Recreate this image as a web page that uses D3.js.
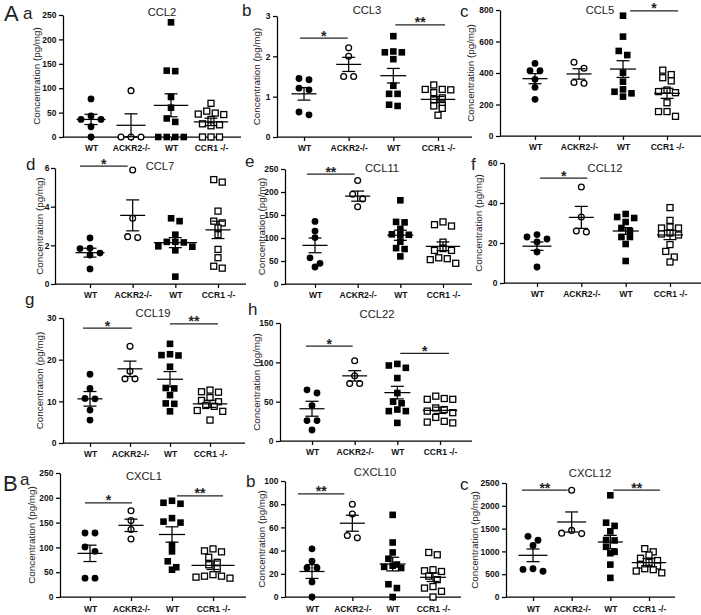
<!DOCTYPE html>
<html><head><meta charset="utf-8">
<script src="https://cdn.jsdelivr.net/npm/d3@7"></script>
<style>body{margin:0;background:#fff}svg{display:block}</style>
</head><body>
<svg id="fig" width="701" height="615"></svg>
<script>
// ---------- DATA ----------
const groupLabels = ["WT", "ACKR2-/-", "WT", "CCR1 -/-"];
const titles = ["CCL2","CCL3","CCL5","CCL7","CCL11","CCL12","CCL19","CCL22","CXCL1","CXCL10","CXCL12"];
const panelLetters = ["a","b","c","d","e","f","g","h","a","b","c"];
const sectionLetters = ["A","B"];
const yMax  = [250, 3, 800, 6, 250, 60, 30, 150, 250, 100, 2500];
const yStep = [50, 1, 200, 2, 50, 20, 10, 50, 50, 20, 500];

const ccl2 = [[78,43,36,36,21,0],[95,0,0,0],[235,136,135,82,60,38,31,0,0,0,0],[69,53,49,47,46,36,27,25,23,0,0,0]];
const ccl2Mean = [36,24,65,31], ccl2Sem = [10.5,23.5,23.5,7.5];
const ccl2Sig = [];

const ccl3 = [[1.45,1.42,1.21,1.17,0.62,0.55],[2.21,2.0,1.5,1.5],[2.5,2.12,2.1,2.1,1.93,1.27,1.07,1.07,0.8,0.77],[1.29,1.18,1.18,1.17,1.1,0.97,0.92,0.79,0.77,0.71,0.54]];
const ccl3Mean = [1.07,1.8,1.52,0.93], ccl3Sem = [0.155,0.175,0.18,0.075];
const ccl3Sig = [[0,1,2.45,"*"],[2,3,2.78,"**"]];

const ccl5 = [[461,415,415,360,309,233],[468,430,340,335],[764,631,540,514,402,345,296,281,271,250],[418,390,370,350,292,282,275,211,155,155,125]];
const ccl5Mean = [364,394,425,271], ccl5Sem = [32,33,53,32];
const ccl5Sig = [[2,3,794,"*"]];

const ccl7 = [[2.38,1.85,1.83,1.6,1.5,0.78],[5.9,3.4,2.45,2.4],[3.4,3.25,2.55,2.18,2.18,2.15,1.95,1.93,1.74,0.38],[5.4,5.27,3.77,3.25,3.16,2.9,2.55,1.79,1.36,0.92,0.82]];
const ccl7Mean = [1.62,3.55,2.14,2.8], ccl7Sem = [0.23,0.8,0.26,0.45];
const ccl7Sig = [[0,1,6.1,"*"]];

const ccl11 = [[136,115,101,57,45,37],[225,195,185,168],[182,135,134,120,108,107,106,92,78,76,60],[135,129,126,91,77,73,73,57,55,53,45]];
const ccl11Mean = [84,191,106,82], ccl11Sem = [16,11,11,9.5];
const ccl11Sig = [[0,1,239,"**"]];

const ccl12 = [[24.2,23,22,20.5,15.5,8],[48,33,26,25.5],[34.5,33,32.5,30.5,27.5,26,23,23,19.5,11],[37.7,31.3,28,27.5,27.5,25,24.5,24,19.2,15.8,13,10.5]];
const ccl12Mean = [18.4,32.8,26,24], ccl12Sem = [2.1,5.5,1.7,2.3];
const ccl12Sig = [[0,1,52.5,"*"]];

const ccl19 = [[16.5,13.1,10.7,10.6,7.9,5.5],[23.2,17.2,15.4,15.4],[23.8,21.3,21.1,21.0,18.3,13.2,13.1,11.5,9.5,9.4,7.6],[12.7,12.3,12.2,10.9,10.2,9.9,9.0,8.8,7.8,7.6,5.5]];
const ccl19Mean = [10.6,17.8,15.3,9.4], ccl19Sem = [1.75,1.85,1.85,0.85];
const ccl19Sig = [[0,1,27.6,"*"],[2,3,28.6,"**"]];

const ccl22 = [[65,61,45,26,26,14],[102,83,73,73],[98,96,93,80,61,50,48,40,38,38,23],[57,54,53,53,42,40,38,36,30,25,24,23]];
const ccl22Mean = [41,82.8,61.5,39], ccl22Sem = [9.5,6.6,8,4];
const ccl22Sig = [[0,1,120.5,"*"],[2,3,111.5,"*"]];

const cxcl1 = [[129,129,101,92,38,38],[174,154,136,117],[194,190,188,159,152,150,105,92,72,60,55],[97,93,91,80,70,65,57,45,42,42,40,38]];
const cxcl1Mean = [88,144.5,126,64], cxcl1Sem = [16.5,12.5,15.5,8.5];
const cxcl1Sig = [[0,1,190,"*"],[2,3,204,"**"]];

const cxcl10 = [[41.5,31,25,25,13,0],[80,71.6,53,51],[70.8,47,38.4,33,28,27,26,25,11,7.7,0],[38.4,36.4,23.5,22.6,22,18,15,9,7.7,4.9,0]];
const cxcl10Mean = [22,63.6,28.4,17], cxcl10Sem = [6,6.9,5.9,3.6];
const cxcl10Sig = [[0,1,89,"**"]];

const cxcl12 = [[1330,1245,1130,620,605,565],[2340,1460,1400,1390],[2230,1630,1560,1440,1250,1240,1100,990,960,710,420],[1060,990,920,850,800,760,700,680,620,600,570,530]];
const cxcl12Mean = [914,1645,1206,753], cxcl12Sem = [139,220,146,91];
const cxcl12Sig = [[0,1,2346,"**"],[2,3,2346,"**"]];

const allData = [ccl2,ccl3,ccl5,ccl7,ccl11,ccl12,ccl19,ccl22,cxcl1,cxcl10,cxcl12];
const allMean = [ccl2Mean,ccl3Mean,ccl5Mean,ccl7Mean,ccl11Mean,ccl12Mean,ccl19Mean,ccl22Mean,cxcl1Mean,cxcl10Mean,cxcl12Mean];
const allSem  = [ccl2Sem,ccl3Sem,ccl5Sem,ccl7Sem,ccl11Sem,ccl12Sem,ccl19Sem,ccl22Sem,cxcl1Sem,cxcl10Sem,cxcl12Sem];
const allSig  = [ccl2Sig,ccl3Sig,ccl5Sig,ccl7Sig,ccl11Sig,ccl12Sig,ccl19Sig,ccl22Sig,cxcl1Sig,cxcl10Sig,cxcl12Sig];

// ---------- LAYOUT (pixels) ----------
const layouts = [
 {x0:63, x1:241,c0:91, c3:211,yTop:15, yBot:137,yt:26,tx:162,ty:16, lx:23, ly:19, sd:[]},
 {x0:277,x1:472,c0:304,c3:438,yTop:16, yBot:137,yt:20,tx:367,ty:14, lx:242,ly:16, sd:[[-4,-1],[2,7]]},
 {x0:500,x1:701,c0:535,c3:667,yTop:10, yBot:136,yt:29,tx:600,ty:14, lx:460,ly:17, sd:[[7,11]]},
 {x0:55, x1:246,c0:90, c3:218,yTop:168,yBot:284,yt:15.5,tx:160,ty:170,lx:26, ly:170,sd:[[-10,-5]]},
 {x0:285,x1:472,c0:315,c3:443,yTop:169,yBot:284,yt:23,tx:382,ty:172,lx:245,ly:167,sd:[[-8,-3]]},
 {x0:504,x1:701,c0:537,c3:670,yTop:163,yBot:283,yt:25,tx:605,ty:172,lx:471,ly:170,sd:[[3,6]]},
 {x0:63, x1:245,c0:90, c3:210,yTop:318,yBot:443,yt:23,tx:153,ty:317,lx:25, ly:305,sd:[[-7,2],[0,8]]},
 {x0:280,x1:472,c0:312,c3:440,yTop:323,yBot:441,yt:23,tx:377,ty:318,lx:248,ly:315,sd:[[-6,-2],[3,9]]},
 {x0:60, x1:246,c0:90, c3:213,yTop:473,yBot:597,yt:28,tx:144,ty:480,lx:20, ly:485,sd:[[-5,1],[5,10]]},
 {x0:285,x1:461,c0:312,c3:433,yTop:481,yBot:597,yt:23,tx:375,ty:476,lx:246,ly:487,sd:[[-14,-8]]},
 {x0:506,x1:675,c0:533,c3:649,yTop:483,yBot:597,yt:31,tx:590,ty:477,lx:460,ly:490,sd:[[-11,-4],[3,11]]}
];
const sectionPos = [[4,21],[3,491]];

const FONT = '"Liberation Sans", Arial, Helvetica, sans-serif';
const svg = d3.select("#fig");
const LW = 1.25;

function spreadOffsets(vals, y, spacing, thresh) {
  const pts = vals.map(v => ({v, py: y(v)})).sort((a,b) => a.py - b.py);
  const rows = []; let cur = null;
  for (const p of pts) {
    if (cur && p.py - cur[0].py < thresh) cur.push(p); else { cur = [p]; rows.push(cur); }
  }
  rows.forEach(r => {
    const n = r.length;
    r.forEach((p, k) => {
      let o;
      if (n % 2 === 1) { o = k === 0 ? 0 : (k % 2 === 1 ? -Math.ceil(k/2) : Math.ceil(k/2)); }
      else { const m = Math.floor(k/2) + 0.5; o = k % 2 === 0 ? -m : m; }
      p.dx = o * spacing;
    });
  });
  return pts;
}

function drawPanel(i) {
  const L = layouts[i], data = allData[i], mean = allMean[i], sem = allSem[i], sig = allSig[i];
  const g = svg.append("g");
  const x = d3.scalePoint().domain(d3.range(4)).range([L.c0, L.c3]);
  const y = d3.scaleLinear().domain([0, yMax[i]]).range([L.yBot, L.yTop]);

  const ya = d3.axisLeft(y).tickValues(d3.range(0, yMax[i] + yStep[i]/2, yStep[i]))
    .tickFormat(d3.format("d")).tickSize(4).tickPadding(L.yt < 17 ? 1.5 : 2.5).tickSizeOuter(0);
  const yg = g.append("g").attr("transform", `translate(${L.x0},0)`).call(ya);
  const xa = d3.axisBottom(x).tickFormat(k => groupLabels[k]).tickSize(4).tickPadding(i >= 8 ? 5 : 3.5).tickSizeOuter(0);
  const xg = g.append("g").attr("transform", `translate(0,${L.yBot})`).call(xa);
  xg.select(".domain").remove();
  g.append("line").attr("x1", L.x0).attr("x2", L.x1).attr("y1", L.yBot).attr("y2", L.yBot)
    .attr("stroke", "#000").attr("stroke-width", LW);
  [yg, xg].forEach(a => {
    a.selectAll("path,line").attr("stroke", "#000").attr("stroke-width", LW);
    a.selectAll("text").attr("font-family", FONT).attr("font-size", 8.5).attr("font-weight", "bold").attr("fill", "#111");
  });

  // y title
  g.append("text").attr("transform", `translate(${L.x0 - L.yt},${(L.yTop + L.yBot)/2}) rotate(-90)`)
    .attr("text-anchor", "middle").attr("dy", "0.35em").attr("font-family", FONT).attr("font-size", 9.8)
    .attr("fill", "#222").text("Concentration (pg/mg)");
  // chart title
  g.append("text").attr("x", L.tx).attr("y", L.ty).attr("text-anchor", "middle")
    .attr("font-family", FONT).attr("font-size", 11.2).attr("fill", "#222").text(titles[i]);
  // panel letter
  g.append("text").attr("x", L.lx).attr("y", L.ly).attr("font-family", FONT).attr("font-size", 17)
    .attr("fill", "#222").text(panelLetters[i]);

  // points
  data.forEach((vals, gi) => {
    const isSq = gi >= 2, open = gi % 2 === 1;
    const pts = spreadOffsets(vals, y, isSq ? 8.5 : 10, 6);
    const cx = x(gi);
    pts.forEach(p => {
      if (isSq) {
        const s = open ? 6 : 6.6;
        g.append("rect").attr("x", cx + p.dx - s/2).attr("y", p.py - s/2).attr("width", s).attr("height", s)
          .attr("fill", open ? "#fff" : "#000").attr("stroke", "#000").attr("stroke-width", open ? 1.3 : 0);
      } else {
        g.append("circle").attr("cx", cx + p.dx).attr("cy", p.py).attr("r", open ? 2.9 : 3.4)
          .attr("fill", open ? "#fff" : "#000").attr("stroke", "#000").attr("stroke-width", open ? 1.3 : 0);
      }
    });
    const maxOff = d3.max(pts, p => Math.abs(p.dx));
    const hw = Math.max(12.5, maxOff + 4.5);
    const ym = y(mean[gi]), yh = y(mean[gi] + sem[gi]), yl = y(Math.max(0, mean[gi] - sem[gi]));
    const st = sel => sel.attr("stroke", "#000").attr("stroke-width", LW);
    st(g.append("line").attr("x1", cx - hw).attr("x2", cx + hw).attr("y1", ym).attr("y2", ym));
    st(g.append("line").attr("x1", cx).attr("x2", cx).attr("y1", yh).attr("y2", yl));
    st(g.append("line").attr("x1", cx - 6.5).attr("x2", cx + 6.5).attr("y1", yh).attr("y2", yh));
    st(g.append("line").attr("x1", cx - 6.5).attr("x2", cx + 6.5).attr("y1", yl).attr("y2", yl));
  });

  // significance bars
  sig.forEach((s, k) => {
    const [a, b, lev, lab] = s;
    const off = L.sd[k] || [0, 0];
    const xa1 = x(a) + off[0], xb1 = x(b) + off[1], yy = y(lev);
    g.append("line").attr("x1", xa1).attr("x2", xb1).attr("y1", yy).attr("y2", yy)
      .attr("stroke", "#222").attr("stroke-width", LW);
    g.append("text").attr("x", (xa1 + xb1)/2).attr("y", yy + 2.5).attr("text-anchor", "middle")
      .attr("font-family", FONT).attr("font-size", 14).attr("font-weight", "bold").attr("fill", "#222").text(lab);
  });
}

d3.range(titles.length).forEach(drawPanel);
sectionLetters.forEach((s, k) => {
  svg.append("text").attr("x", sectionPos[k][0]).attr("y", sectionPos[k][1]).attr("font-family", FONT)
    .attr("font-size", 22).attr("fill", "#222").text(s);
});
</script>
</body></html>
